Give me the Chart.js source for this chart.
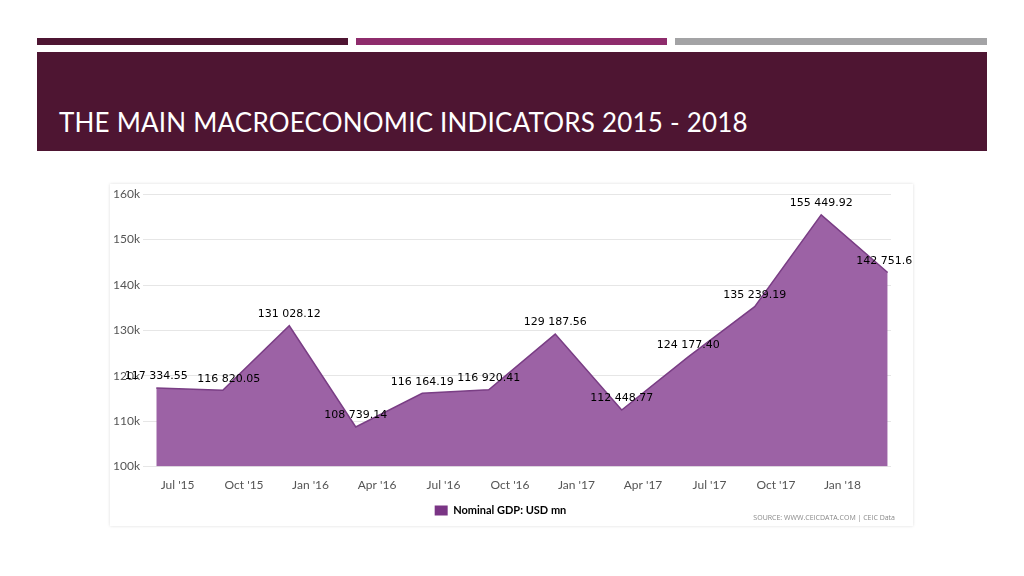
<!DOCTYPE html>
<html><head><meta charset="utf-8">
<script src="https://cdn.jsdelivr.net/npm/chart.js@4"></script>
<style>
body{margin:0;width:1024px;height:576px;background:#fff;position:relative;overflow:hidden;font-family:"Open Sans",sans-serif}
.bar{position:absolute;top:38px;height:7px}
#title{position:absolute;left:37px;top:52px;width:950px;height:99px;background:#4e1532}
#title span{position:absolute;left:22px;top:54px;color:#fff;font-family:Lato,sans-serif;font-size:26px;letter-spacing:0.2px}
#box{position:absolute;left:110px;top:184px;width:803px;height:342px;background:#fff;box-shadow:0 0 3px #ddd}
#src{position:absolute;right:18px;bottom:4px;font-size:7px;color:#888}
</style></head><body>
<div class="bar" style="left:37px;width:311px;background:#4e1532"></div>
<div class="bar" style="left:356px;width:311px;background:#8e2c6c"></div>
<div class="bar" style="left:675px;width:312px;background:#a3a3a5"></div>
<div id="title"><span>THE MAIN MACROECONOMIC INDICATORS 2015 - 2018</span></div>
<div id="box"><canvas id="c" width="803" height="342"></canvas><div id="src">SOURCE: WWW.CEICDATA.COM | CEIC Data</div></div>
<script>
const tickLabels=["Jul '15","Oct '15","Jan '16","Apr '16","Jul '16","Oct '16","Jan '17","Apr '17","Jul '17","Oct '17","Jan '18"];
const values=[117334.55,116820.05,131028.12,108739.14,116164.19,116920.41,129187.56,112448.77,124177.40,135239.19,155449.92,142751.65];
const yTicks=[100000,110000,120000,130000,140000,150000,160000];
const pts=values.map((v,i)=>({x:i,y:v}));
const fmt=v=>v.toFixed(2).replace(/\B(?=(\d{3})+(?!\d))/g,' ');
const labelPlugin={id:'lbl',afterDatasetsDraw(ch){const c=ch.ctx,m=ch.getDatasetMeta(0);c.save();c.font='11px "DejaVu Sans"';c.fillStyle='#000';c.textAlign='center';c.textBaseline='bottom';
m.data.forEach((p,i)=>{let dx=0;if(i==1)dx=6;if(i==0)dx=0;c.fillText(fmt(values[i]),p.x+dx,p.y-6);});c.restore();}};
new Chart(document.getElementById('c'),{type:'line',
data:{datasets:[{data:pts,fill:'start',backgroundColor:'#9c62a5',borderColor:'#7a3e85',borderWidth:1.5,pointRadius:0,tension:0}]},
options:{responsive:false,animation:false,layout:{padding:{left:0,right:22,top:4,bottom:0}},
plugins:{legend:{position:'bottom',labels:{boxWidth:13,boxHeight:10,color:'#666',font:{size:11,weight:'bold',family:'Lato'},generateLabels:()=>[{text:'Nominal GDP: USD mn',fillStyle:'#7a3585',strokeStyle:'#7a3585',lineWidth:0}]}},tooltip:{enabled:false}},
scales:{x:{type:'linear',min:-0.08,max:11.05,grid:{display:false},border:{display:false},
afterBuildTicks(a){a.ticks=tickLabels.map((t,i)=>({value:i+0.32}));},
ticks:{autoSkip:false,maxRotation:0,color:'#555',font:{size:12,family:'Lato'},callback:(v,i)=>tickLabels[i]}},
y:{min:100000,max:160000,afterBuildTicks(a){a.ticks=yTicks.map(v=>({value:v}));},grid:{color:'#e6e6e6'},border:{display:false},
ticks:{color:'#555',font:{size:12,family:'Lato'},callback:v=>(v/1000)+'k'}}}},
plugins:[labelPlugin]});
</script></body></html>
